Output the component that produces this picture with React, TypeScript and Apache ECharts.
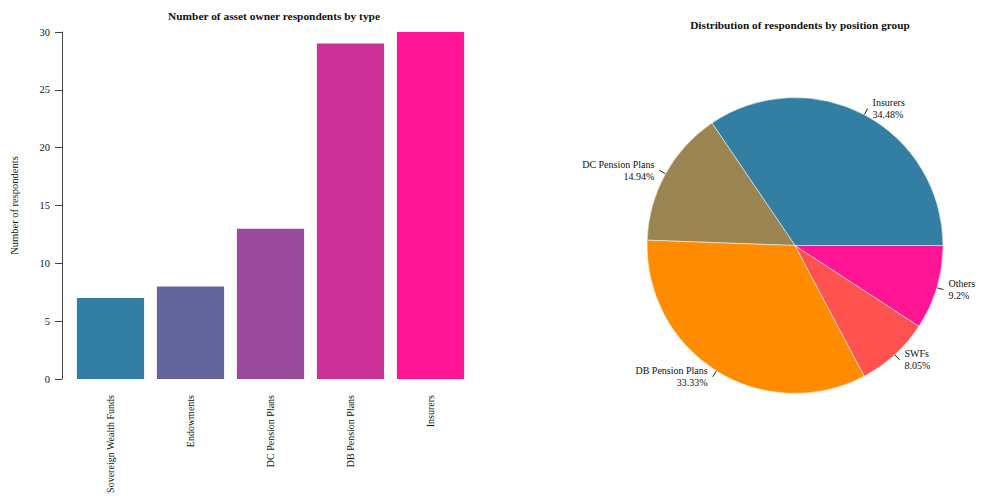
import React, { useEffect, useRef } from "react";
import * as echarts from "echarts";

const barCategories = ["Sovereign Wealth Funds", "Endowments", "DC Pension Plans", "DB Pension Plans", "Insurers"];
const barValues = [7, 8, 13, 29, 30];
const barColors = ["#337fa4", "#64649c", "#9a4a9a", "#cb3196", "#ff1493"];

const pieNames = ["Insurers", "DC Pension Plans", "DB Pension Plans", "SWFs", "Others"];
const pieValues = [30, 13, 29, 7, 8];
const pieColors = ["#337fa4", "#998452", "#ff8c00", "#ff524f", "#ff1493"];

const FONT = "'Liberation Serif', serif";

export default function App() {
  const ref = useRef<HTMLDivElement>(null);
  useEffect(() => {
    if (!ref.current) return;
    const chart = echarts.init(ref.current, undefined, { renderer: "svg" });
    chart.setOption({
      animation: false,
      textStyle: { fontFamily: FONT },
      title: [
        {
          text: "Number of asset owner respondents by type",
          left: 269,
          top: 5,
          textAlign: "center",
          textStyle: { fontFamily: FONT, fontSize: 11.4, fontWeight: "bold", color: "#111" },
        },
        {
          text: "Distribution of respondents by position group",
          left: 795,
          top: 14,
          textAlign: "center",
          textStyle: { fontFamily: FONT, fontSize: 11.3, fontWeight: "bold", color: "#111" },
        },
      ],
      grid: { left: 70.5, right: 513.5, top: 32, bottom: 117, containLabel: false, outerBoundsMode: "none" },
      xAxis: {
        type: "category",
        data: barCategories,
        axisLine: { show: false },
        axisTick: { show: false },
        axisLabel: {
          rotate: 90,
          margin: 16,
          fontSize: 10,
          color: "#111",
          fontFamily: FONT,
        },
      },
      yAxis: {
        type: "value",
        min: 0,
        max: 30,
        interval: 5,
        offset: 8.5,
        name: "Number of respondents",
        nameLocation: "middle",
        nameGap: 42,
        nameTextStyle: { fontSize: 10.5, color: "#111", fontFamily: FONT },
        splitLine: { show: false },
        axisLine: { show: true, lineStyle: { color: "#444", width: 1 } },
        axisTick: { show: true, length: 7, lineStyle: { color: "#444" } },
        axisLabel: { fontSize: 10.5, color: "#111", margin: 12, fontFamily: FONT },
      },
      series: [
        {
          type: "bar",
          data: barValues.map((v, i) => ({ value: v, itemStyle: { color: barColors[i] } })),
          barCategoryGap: "16%",
        },
        {
          type: "pie",
          center: [795, 245.5],
          radius: 148,
          startAngle: 0,
          clockwise: false,
          data: pieNames.map((n, i) => ({ name: n, value: pieValues[i], itemStyle: { color: pieColors[i] } })),
          itemStyle: { borderColor: "#ffffff", borderWidth: 0.5 },
          label: {
            formatter: (p: any) => `${p.name}\n${p.percent}%`,
            fontSize: 10,
            color: "#111",
            fontFamily: FONT,
            lineHeight: 12,
            overflow: "none",
          },
          labelLine: { length: 7, length2: 0, lineStyle: { color: "#222", width: 1 } },
        },
      ],
    });
    return () => chart.dispose();
  }, []);
  return <div ref={ref} style={{ width: 984, height: 496, position: "absolute", left: 0, top: 0 }} />;
}
